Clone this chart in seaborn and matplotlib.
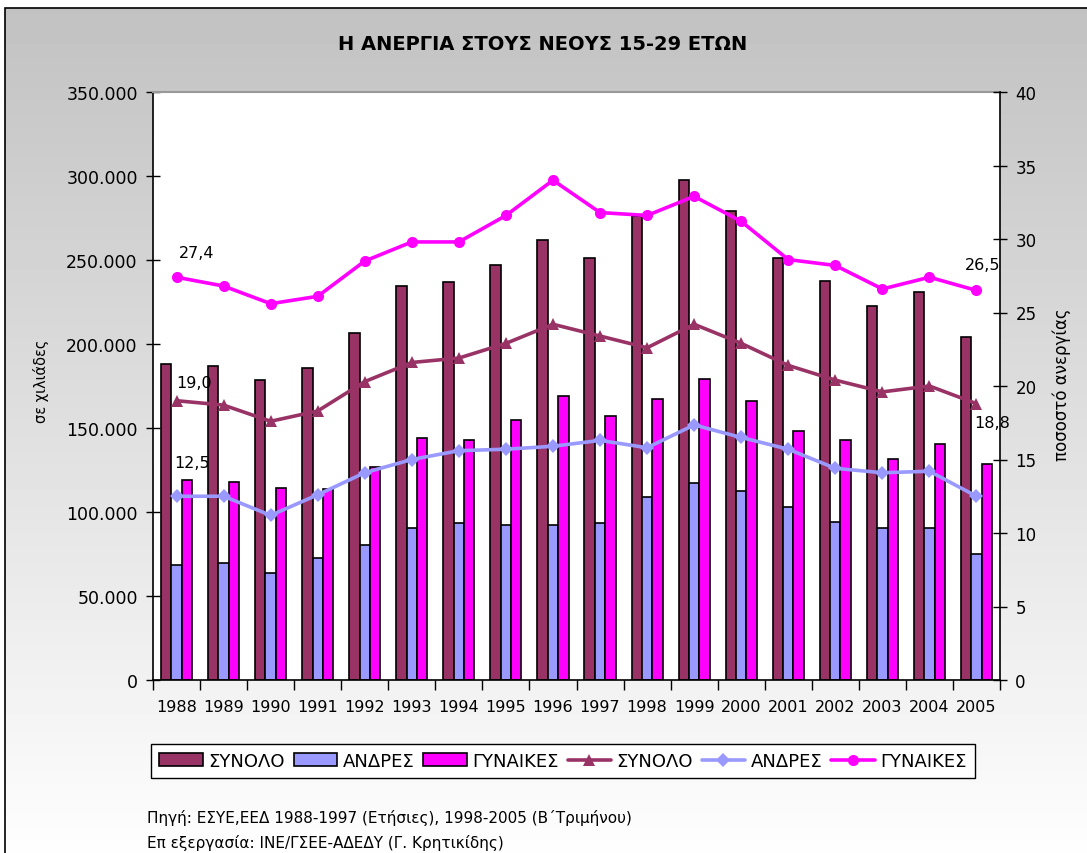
import numpy as np
import pandas as pd
import matplotlib
matplotlib.use("Agg")
import matplotlib.pyplot as plt
from matplotlib.patches import Patch, Rectangle
from matplotlib.lines import Line2D
from matplotlib.ticker import FuncFormatter, FixedLocator
import seaborn as sns

# ---------------- data ----------------
years = [1988, 1989, 1990, 1991, 1992, 1993, 1994, 1995, 1996,
         1997, 1998, 1999, 2000, 2001, 2002, 2003, 2004, 2005]
total_count = [188000, 187000, 178600, 186000, 206500, 234700, 236700, 247000, 261700,
               251000, 276000, 297600, 279000, 251000, 237500, 222600, 231000, 204000]
men_count = [68600, 69400, 63900, 72400, 80200, 90700, 93500, 92500, 92500,
             93500, 108700, 117500, 112700, 103000, 94200, 90700, 90700, 75200]
women_count = [119200, 117700, 114500, 113500, 126800, 144000, 143000, 154600, 168900,
               157300, 167300, 179400, 166000, 148000, 143000, 131500, 140300, 128800]
total_rate = [19.0, 18.7, 17.6, 18.3, 20.3, 21.6, 21.9, 22.9, 24.2,
              23.4, 22.6, 24.2, 22.9, 21.4, 20.4, 19.6, 20.0, 18.8]
men_rate = [12.5, 12.5, 11.2, 12.6, 14.1, 15.0, 15.6, 15.7, 15.9,
            16.3, 15.8, 17.35, 16.5, 15.7, 14.4, 14.1, 14.2, 12.5]
women_rate = [27.4, 26.8, 25.6, 26.1, 28.5, 29.8, 29.8, 31.6, 34.0,
              31.8, 31.6, 32.9, 31.2, 28.6, 28.2, 26.6, 27.4, 26.5]
series_names = ["ΣΥΝΟΛΟ", "ΑΝΔΡΕΣ", "ΓΥΝΑΙΚΕΣ"]
colors = ["#993366", "#9999FF", "#FF00FF"]
left_ticks = [0, 50000, 100000, 150000, 200000, 250000, 300000, 350000]
right_ticks = [0, 5, 10, 15, 20, 25, 30, 35, 40]

title = "Η ΑΝΕΡΓΙΑ ΣΤΟΥΣ ΝΕΟΥΣ 15-29 ΕΤΩΝ"
ylabel_left = "σε χιλιάδες"
ylabel_right = "ποσοστό ανεργίας"
source1 = "Πηγή: ΕΣΥΕ,ΕΕΔ 1988-1997 (Ετήσιες), 1998-2005 (Β΄Τριμήνου)"
source2 = "Επ εξεργασία: ΙΝΕ/ΓΣΕΕ-ΑΔΕΔΥ (Γ. Κρητικίδης)"

df = pd.DataFrame({
    "year": [str(y) for y in years] * 3,
    "series": sum([[n] * len(years) for n in series_names], []),
    "value": total_count + men_count + women_count,
})

# ---------------- style ----------------
sns.set_theme(style="white")
plt.rcParams["font.family"] = ["DejaVu Sans"]
plt.rcParams["text.color"] = "black"
plt.rcParams["axes.labelcolor"] = "black"
plt.rcParams["xtick.color"] = "black"
plt.rcParams["ytick.color"] = "black"

W, H = 1087, 854
fig = plt.figure(figsize=(W / 100, H / 100), dpi=100)
fig.patch.set_facecolor("white")

# gradient background with border
bg = fig.add_axes([0, 0, 1, 1], zorder=-5)
grad = np.linspace(0.76, 0.995, 256).reshape(-1, 1)
bg.imshow(grad, aspect="auto", cmap="gray", vmin=0, vmax=1,
          extent=[5 / W, 1.0, 0.0, 1 - 9 / H], origin="upper")
bg.add_patch(Rectangle((5 / W, -0.01), 1.0, 1 - 9 / H + 0.01, fill=False,
                       edgecolor="black", linewidth=1.2))
bg.set_xlim(0, 1)
bg.set_ylim(0, 1)
bg.axis("off")

ax = fig.add_axes([153 / W, 1 - 681 / H, 847 / W, 588 / H])
ax.set_facecolor("white")

sns.barplot(data=df, x="year", y="value", hue="series", hue_order=series_names,
            palette=colors, width=0.66, edgecolor="black", linewidth=1.2,
            saturation=1, ax=ax, legend=False, errorbar=None)

ax.set_xlim(-0.5, len(years) - 0.5)
ax.set_ylim(0, 350000)
ax.set_yticks(left_ticks)
ax.yaxis.set_major_formatter(FuncFormatter(lambda v, p: "0" if v == 0 else f"{int(v):,}".replace(",", ".")))
ax.set_xlabel("")
ax.set_ylabel("")
ax.tick_params(axis="y", direction="inout", length=10, width=1, labelsize=12.5,
               pad=6, left=True, colors="black")
ax.tick_params(axis="x", which="major", length=0, labelsize=11.5, pad=14,
               colors="black")
ax.xaxis.set_minor_locator(FixedLocator(np.arange(-0.5, len(years), 1.0)))
ax.tick_params(axis="x", which="minor", direction="out", length=7, width=1,
               bottom=True, colors="black")
for s in ["left", "bottom"]:
    ax.spines[s].set_color("black")
    ax.spines[s].set_linewidth(1.2)
ax.spines["top"].set_color("#999999")
ax.spines["top"].set_linewidth(1.5)
ax.spines["right"].set_visible(False)

ax2 = ax.twinx()
x = np.arange(len(years))
sns.lineplot(x=x, y=total_rate, color=colors[0], marker="^", markersize=9,
             markeredgewidth=0, linewidth=2.6, ax=ax2)
sns.lineplot(x=x, y=men_rate, color=colors[1], marker="D", markersize=7,
             markeredgewidth=0, linewidth=2.6, ax=ax2)
sns.lineplot(x=x, y=women_rate, color=colors[2], marker="o", markersize=8,
             markeredgewidth=0, linewidth=2.6, ax=ax2)
ax2.set_ylim(0, 40)
ax2.set_yticks(right_ticks)
ax2.tick_params(axis="y", direction="inout", length=10, width=1, labelsize=12,
                pad=6, right=True, colors="black")
ax2.set_xlim(-0.5, len(years) - 0.5)
for s in ["left", "top", "bottom"]:
    ax2.spines[s].set_visible(False)
ax2.spines["right"].set_color("black")
ax2.spines["right"].set_linewidth(1.2)
ax2.set_ylabel("")

def fmt(v):
    return f"{v:.1f}".replace(".", ",")

ann_kw = dict(textcoords="offset pixels", ha="center", va="center", fontsize=11.5,
              color="black")
ax2.annotate(fmt(women_rate[0]), (0, women_rate[0]), xytext=(20, 25), **ann_kw)
ax2.annotate(fmt(total_rate[0]), (0, total_rate[0]), xytext=(18, 18), **ann_kw)
ax2.annotate(fmt(men_rate[0]), (0, men_rate[0]), xytext=(16, 34), **ann_kw)
ax2.annotate(fmt(women_rate[-1]), (len(years) - 1, women_rate[-1]), xytext=(6, 26), **ann_kw)
ax2.annotate(fmt(total_rate[-1]), (len(years) - 1, total_rate[-1]), xytext=(16, -19), **ann_kw)

fig.text(543 / W, 1 - 45 / H, title, ha="center", va="center",
         fontsize=14, fontweight="bold", color="black")
fig.text(41 / W, 1 - 381 / H, ylabel_left, rotation=90, ha="center", va="center",
         fontsize=10.5, color="black")
fig.text(1062 / W, 1 - 385 / H, ylabel_right, rotation=90, ha="center", va="center",
         fontsize=12, color="black")

handles = [Patch(facecolor=c, edgecolor="black", linewidth=1.2) for c in colors]
markers = ["^", "D", "o"]
sizes = [9, 7, 8]
handles += [Line2D([0], [0], color=c, marker=m, markersize=s, markeredgewidth=0,
                   linewidth=2.6) for c, m, s in zip(colors, markers, sizes)]
labels = series_names + series_names
leg = fig.legend(handles, labels, loc="center", bbox_to_anchor=(563 / W, 1 - 762 / H),
                 ncol=6, fontsize=13, frameon=True, fancybox=False,
                 handlelength=2.4, handletextpad=0.3, columnspacing=0.5,
                 borderpad=0.45, edgecolor="black", framealpha=1)
leg.get_frame().set_linewidth(1.0)
for t in leg.get_texts():
    t.set_color("black")

fig.text(147 / W, 1 - 818 / H, source1, ha="left", va="center", fontsize=11,
         color="black")
fig.text(147 / W, 1 - 843 / H, source2, ha="left", va="center", fontsize=11,
         color="black")

fig.savefig("out.png", dpi=100)
